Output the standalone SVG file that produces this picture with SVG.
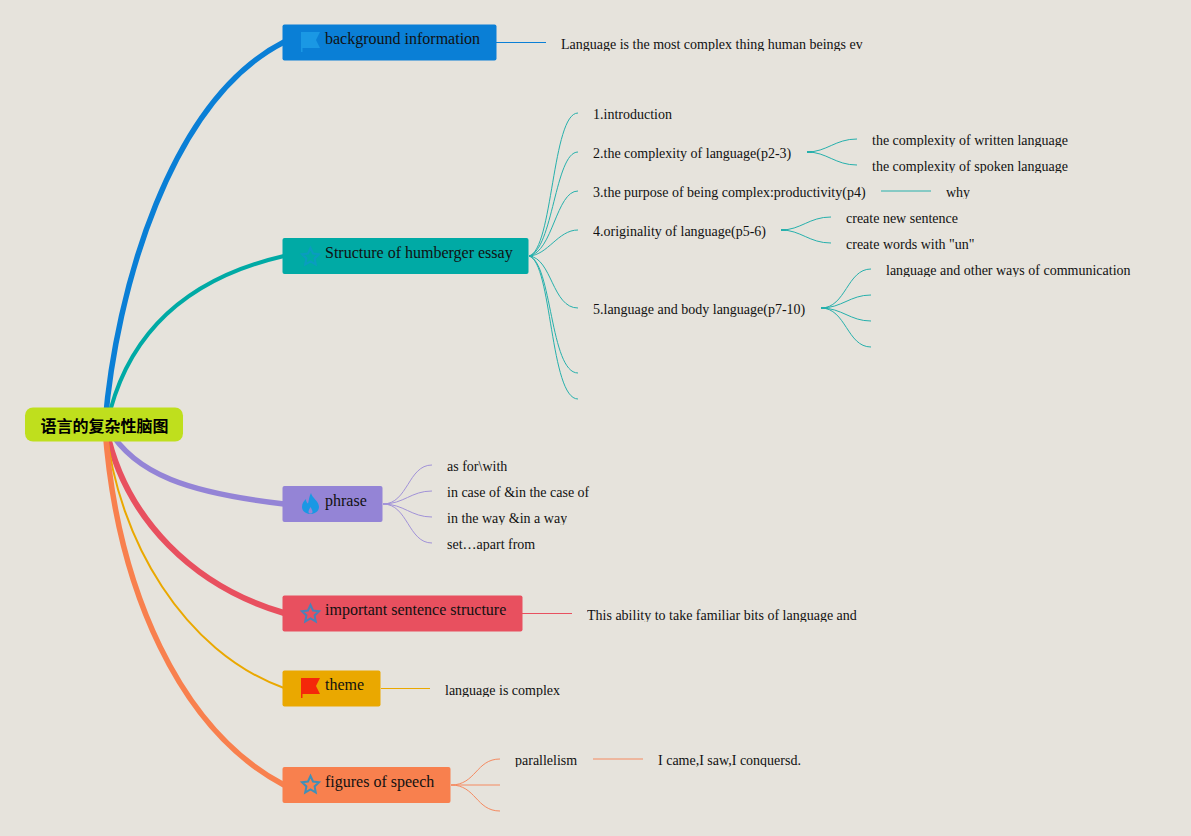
<svg xmlns="http://www.w3.org/2000/svg" width="1191" height="836" viewBox="0 0 1191 836">
<style>
text{font-family:"Liberation Serif","Times New Roman",serif;fill:#111}
.t{font-size:16px}
.s{font-size:14px;clip-path:url(#cut)}
.r{font-family:"Noto Sans CJK SC","Liberation Sans",sans-serif;font-size:16px;font-weight:700;fill:#000}
.c{fill:none}
.th{stroke-width:5.500}
.f{stroke-width:1}
.teal{stroke:#26b0ac}
.pur{stroke:#a192d8}
.or{stroke:#f58a60}
</style>
<defs>
<clipPath id="cut" clipPathUnits="objectBoundingBox"><rect x="0" y="0" width="1" height="0.93"/></clipPath>
<path id="flag" d="M0 0H19L15 8L19 16H1.500V20H0Z"/>
<path id="star" d="M9.500 1L12 6.500L18 7.300L13.600 11.400L14.800 17.500L9.500 14.500L4.200 17.500L5.400 11.400L1 7.300L7 6.500Z" fill="none" stroke-width="2"/>
<path id="flame" d="M9 0C10 5 17 8 17 14C17 18 13 21 8.500 21C4 21 0 18 0 14C0 10 2 8 4 6C4 8.500 5 10 6 10.500C7 7 7 3.500 9 0ZM8.500 14C7.500 16 6.500 17.500 6.500 19C6.500 20 7.500 20.600 8.500 20.600C9.500 20.600 10.500 20 10.500 19C10.500 17.500 9.500 16 8.500 14Z" fill-rule="evenodd"/>
</defs>
<rect width="1191" height="836" fill="#e6e3dc"/>
<g id="connectors" class="c">
<path class="th" stroke="#0a7fd6" d="M105 424C116 290 170 100 284 42"/>
<path stroke="#00aaa5" stroke-width="4" d="M107 424C125 340 180 280 284 256"/>
<path class="th" stroke="#9484d6" d="M108 428C135 475 190 493 284 504"/>
<path stroke="#e8505f" stroke-width="6" d="M106 428C125 520 195 587 284 613"/>
<path stroke="#eaa800" stroke-width="2" d="M106 428C118 540 184 652 284 688"/>
<path class="th" stroke="#f8804e" d="M105 428C117 590 180 730 284 785"/>

<path stroke="#0a7fd6" class="f" d="M496 42.500H546"/>
<g class="teal f">
<path d="M529 256C553 250 552 113 578 113"/>
<path d="M529 256C553 250 555 152 578 152"/>
<path d="M529 256C553 252 556 191 578 191"/>
<path d="M529 256C548 255 558 230 578 230"/>
<path d="M529 256C552 258 552 308 578 308"/>
<path d="M529 256C552 262 550 373 578 373"/>
<path d="M529 256C552 262 550 399 578 399"/>
<path d="M807 152C827 152 835 139 857 139"/>
<path d="M807 152C827 152 835 165 857 165"/>
<path d="M881 191H931"/>
<path d="M781 230C801 230 809 217 831 217"/>
<path d="M781 230C801 230 809 243 831 243"/>
<path d="M821 308C846 308 847 269 871 269"/>
<path d="M821 308C842 308 850 295 871 295"/>
<path d="M821 308C842 308 850 321 871 321"/>
<path d="M821 308C846 308 847 347 871 347"/>
</g>
<path stroke="#26b0ac" stroke-width="2" d="M529 256H533M807 152H812M781 230H786M821 308H827"/>
<g class="pur f">
<path d="M383 504C408 504 408 465 432 465"/>
<path d="M383 504C404 504 411 491 432 491"/>
<path d="M383 504C404 504 411 517 432 517"/>
<path d="M383 504C408 504 408 543 432 543"/>
</g>
<path stroke="#e8505f" class="f" d="M522 613.500H572"/>
<path stroke="#eaa800" class="f" d="M381 688.500H430"/>
<g class="or f">
<path d="M451 785C476 785 476 759 500 759"/>
<path d="M451 785H500"/>
<path d="M451 785C476 785 476 811 500 811"/>
<path d="M593 759H643"/>
</g>
</g>

<g id="root"><rect x="25" y="407.500" width="158" height="34" rx="8" fill="#bfdf1d"/><text class="r" x="40.500" y="432">语言的复杂性脑图</text></g>

<g id="n-background"><rect x="282.500" y="24.500" width="214" height="36" rx="2" fill="#0a7fd6"/><use href="#flag" x="301" y="32" fill="#1a98e4"/><text class="t" x="325" y="44">background information</text></g>
<g id="n-structure"><rect x="282.500" y="238" width="246" height="36" rx="2" fill="#00aaa5"/><use href="#star" x="301" y="247" stroke="#0a9cc0"/><text class="t" x="325" y="258">Structure of humberger essay</text></g>
<g id="n-phrase"><rect x="282.500" y="486" width="100" height="36" rx="2" fill="#9484d6"/><use href="#flame" x="302" y="493" fill="#1a98e4"/><text class="t" x="325" y="506">phrase</text></g>
<g id="n-sentence"><rect x="282.500" y="595.500" width="240" height="36" rx="2" fill="#e8505f"/><use href="#star" x="301" y="604" stroke="#4a82b8"/><text class="t" x="325" y="615">important sentence structure</text></g>
<g id="n-theme"><rect x="282.500" y="670.500" width="98" height="36" rx="2" fill="#eaa800"/><use href="#flag" x="301" y="678" fill="#f4280a"/><text class="t" x="325" y="690">theme</text></g>
<g id="n-figures"><rect x="282.500" y="767" width="168" height="36" rx="2" fill="#f8804e"/><use href="#star" x="301" y="775" stroke="#3f8fb8"/><text class="t" x="325" y="787">figures of speech</text></g>

<g id="n-leaves">
<text class="s" x="561" y="49">Language is the most complex thing human beings ev</text>
<text class="s" x="593" y="119">1.introduction</text>
<text class="s" x="593" y="158">2.the complexity of language(p2-3)</text>
<text class="s" x="872" y="145">the complexity of written language</text>
<text class="s" x="872" y="171">the complexity of spoken language</text>
<text class="s" x="593" y="197">3.the purpose of being complex:productivity(p4)</text>
<text class="s" x="946" y="197">why</text>
<text class="s" x="593" y="236">4.originality of language(p5-6)</text>
<text class="s" x="846" y="223">create new sentence</text>
<text class="s" x="846" y="249">create words with "un"</text>
<text class="s" x="593" y="314">5.language and body language(p7-10)</text>
<text class="s" x="886" y="275">language and other ways of communication</text>
<text class="s" x="447" y="471">as for\with</text>
<text class="s" x="447" y="497">in case of &amp;in the case of</text>
<text class="s" x="447" y="523">in the way &amp;in a way</text>
<text class="s" x="447" y="549">set…apart from</text>
<text class="s" x="587" y="620">This ability to take familiar bits of language and</text>
<text class="s" x="445" y="695">language is complex</text>
<text class="s" x="515" y="765">parallelism</text>
<text class="s" x="658" y="765">I came,I saw,I conquersd.</text>
</g>
</svg>
